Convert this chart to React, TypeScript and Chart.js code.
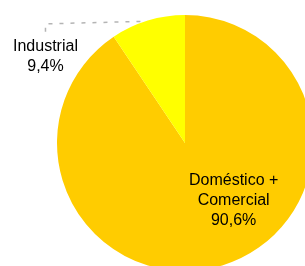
import React, { useEffect, useRef } from "react";
import { Chart, registerables } from "chart.js";

Chart.register(...registerables);

const categories = ["Doméstico + Comercial", "Industrial"];
const values = [90.6, 9.4];
const labelLines = [["Doméstico +", "Comercial", "90,6%"], ["Industrial", "9,4%"]];
const colors = ["#FFCC00", "#FFFF00"];

const labelPlugin = {
  id: "pieLabels",
  afterDraw(chart: any) {
    const ctx = chart.ctx;
    const meta = chart.getDatasetMeta(0);
    const arcInner = meta.data[0];
    const cx = arcInner.x;
    const cy = arcInner.y;
    const r = arcInner.outerRadius;
    ctx.save();
    ctx.font = "16px 'Liberation Sans', Arial, sans-serif";
    ctx.fillStyle = "#000000";
    ctx.textAlign = "center";
    ctx.textBaseline = "alphabetic";
    // inside label for big slice
    const lx = cx + r * 0.38;
    const ly = cy + r * 0.33;
    labelLines[0].forEach((t, i) => ctx.fillText(t, lx, ly + 20 * i));
    // outside label for small slice
    const ox = cx - r * 1.09;
    const oy = cy - r * 0.72;
    labelLines[1].forEach((t, i) => ctx.fillText(t, ox, oy + 20 * i));
    // leader line to the slice edge
    const ey = cy - r * 0.95;
    const ex = cx - Math.sqrt(r * r - (cy - ey) * (cy - ey)) - 1.5;
    ctx.strokeStyle = "#B4B4B4";
    ctx.lineWidth = 1.5;
    ctx.setLineDash([4, 7]);
    ctx.beginPath();
    ctx.moveTo(ox, oy - 19);
    ctx.lineTo(ox, oy - 27);
    ctx.lineTo(ex, ey);
    ctx.stroke();
    ctx.restore();
  },
};

export default function App() {
  const ref = useRef<HTMLCanvasElement | null>(null);
  useEffect(() => {
    if (!ref.current) return;
    const chart = new Chart(ref.current, {
      type: "pie",
      data: {
        labels: categories,
        datasets: [
          {
            data: values,
            backgroundColor: colors,
            borderWidth: 0,
          },
        ],
      },
      options: {
        responsive: false,
        animation: false,
        layout: { padding: { left: 57, right: 57, top: 15, bottom: 15 } },
        plugins: {
          legend: { display: false },
          tooltip: { enabled: false },
        },
      },
      plugins: [labelPlugin],
    });
    return () => chart.destroy();
  }, []);
  return (
    <div
      style={{
        position: "fixed",
        left: 0,
        top: 0,
        width: 305,
        height: 266,
        overflow: "hidden",
        background: "#ffffff",
      }}
    >
      <canvas
        ref={ref}
        width={370}
        height={286}
        style={{ position: "absolute", left: 0, top: 0, width: 370, height: 286 }}
      />
    </div>
  );
}
